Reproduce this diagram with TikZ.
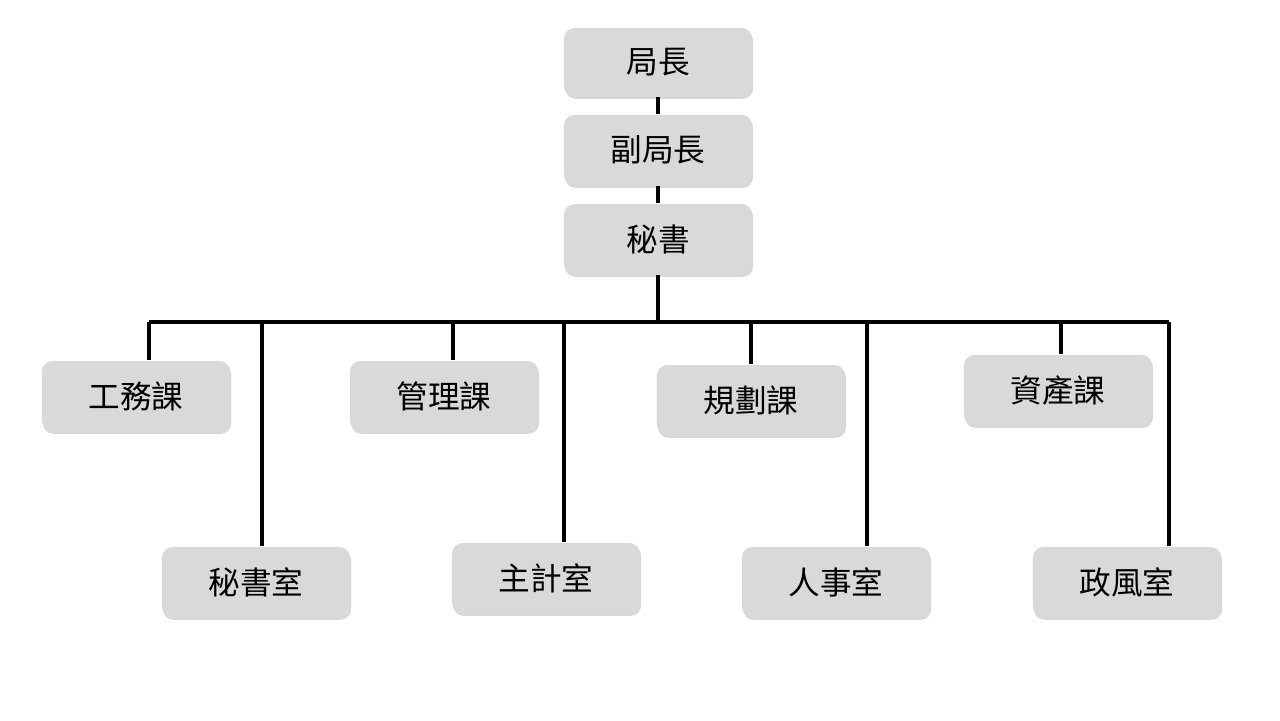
\documentclass[tikz,border=0pt]{standalone}
\usepackage{fontspec}
\newfontfamily\cjk{Noto Sans CJK TC}
\usetikzlibrary{shadows}
\tikzset{
  unitbox/.style={draw=none, fill=gray!30, rounded corners=3pt, minimum width=1.88cm,
    minimum height=0.70cm, font=\cjk\fontsize{9}{11}\selectfont,
    drop shadow={shadow xshift=0.3pt, shadow yshift=-0.8pt, fill=black!30}},
  link/.style={line width=0.9pt}
}
\begin{document}
\begin{tikzpicture}[x=0.01cm, y=-0.01cm]
  \useasboundingbox (0,0) rectangle (1280,720);
  % top chain
  \node[unitbox, minimum height=0.68cm] (chief) at (658,62) {局長};
  \node[unitbox] (deputy) at (658,150) {副局長};
  \node[unitbox] (secretary) at (658,239) {秘書};
  % sections
  \node[unitbox] (works) at (136,396) {工務課};
  \node[unitbox] (manage) at (444,396) {管理課};
  \node[unitbox] (plan) at (751,400) {規劃課};
  \node[unitbox] (assets) at (1058,390) {資產課};
  % offices
  \node[unitbox] (secoffice) at (256,582) {秘書室};
  \node[unitbox] (account) at (546,578) {主計室};
  \node[unitbox] (personnel) at (836,582) {人事室};
  \node[unitbox] (ethics) at (1127,582) {政風室};
  % wires
  \draw[link] (chief) -- (deputy);
  \draw[link] (deputy) -- (secretary);
  \coordinate (bus) at (658,322);
  \coordinate (busL) at (149,322);
  \coordinate (busR) at (1169,322);
  \draw[link] (secretary) -- (bus);
  \draw[link] (busL) -- (busR);
  \foreach \x/\n in {149/works, 262/secoffice, 453/manage, 564/account,
                     751/plan, 867/personnel, 1061/assets, 1169/ethics}{
    \coordinate (drop-\n) at (\x,322);
    \draw[link] (drop-\n) -- (drop-\n |- \n.north);
  }
\end{tikzpicture}
\end{document}
